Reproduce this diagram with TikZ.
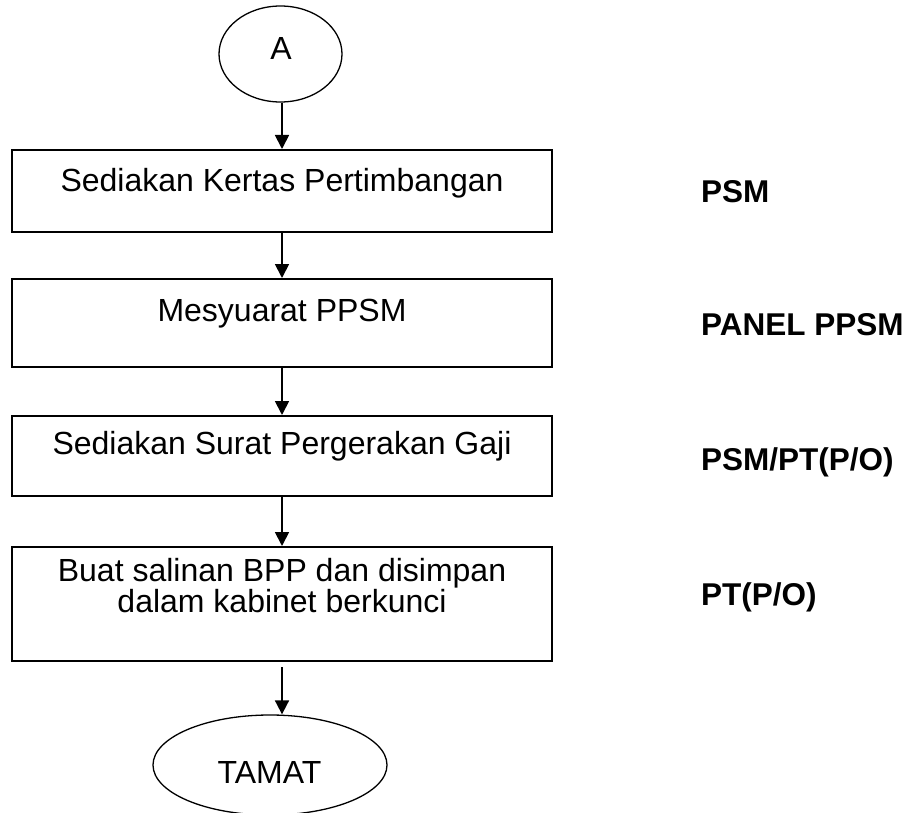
\documentclass[tikz,border=0pt]{standalone}
\usepackage{fontspec}
\setmainfont{Liberation Sans}
\usetikzlibrary{shapes.geometric,arrows.meta}

\tikzset{
  stepbox/.style={draw=black, line width=2pt, rectangle, minimum width=540pt, inner sep=0pt},
  terminal/.style={draw=black, line width=1.3pt, ellipse, inner sep=0pt},
  boxtext/.style={anchor=base, inner sep=0pt, font=\fontsize{32}{27}\selectfont},
  roletext/.style={anchor=base west, inner sep=0pt, font=\fontsize{31.5}{27}\selectfont\bfseries},
  flow/.style={line width=1.8pt, -{Triangle[length=14pt,width=14pt]}}
}

\begin{document}
\begin{tikzpicture}[x=1pt,y=-1pt]
  \useasboundingbox[fill=white] (0,0) rectangle (912,813);

  % start / end terminals
  \node[terminal, minimum width=123pt, minimum height=96pt] (a) at (280.5,54) {};
  \node[boxtext, anchor=center] (ta) at (281,48) {A};

  \node[terminal, minimum width=234pt, minimum height=100pt] (tamat) at (270,765) {};
  \node[boxtext] (tt) at (269.5,783) {TAMAT};

  % process steps
  \node[stepbox, minimum height=82pt] (b1) at (282,191) {};
  \node[boxtext] (t1) at (282,191) {Sediakan Kertas Pertimbangan};

  \node[stepbox, minimum height=88pt] (b2) at (282,323) {};
  \node[boxtext] (t2) at (282,321) {Mesyuarat PPSM};

  \node[stepbox, minimum height=80pt] (b3) at (282,456) {};
  \node[boxtext] (t3) at (282,454) {Sediakan Surat Pergerakan Gaji};

  \node[stepbox, minimum height=114pt] (b4) at (282,604) {};
  \node[boxtext] (t4a) at (282,581) {Buat salinan BPP dan disimpan};
  \node[boxtext] (t4b) at (282,612) {dalam kabinet berkunci};

  % responsible parties
  \node[roletext] (r1) at (701,202) {PSM};
  \node[roletext] (r2) at (701,335) {PANEL PPSM};
  \node[roletext] (r3) at (701,470) {PSM/PT(P/O)};
  \node[roletext] (r4) at (701,605) {PT(P/O)};

  % connectors
  \draw[flow] (b1.north |- a.south) -- (b1.north);
  \draw[flow] (b1.south) -- (b2.north);
  \draw[flow] (b2.south) -- (b3.north);
  \draw[flow] (b3.south) -- (b4.north);
  \draw[flow] ([yshift=-5pt]b4.south) -- (b4.south |- tamat.north);
\end{tikzpicture}
\end{document}
